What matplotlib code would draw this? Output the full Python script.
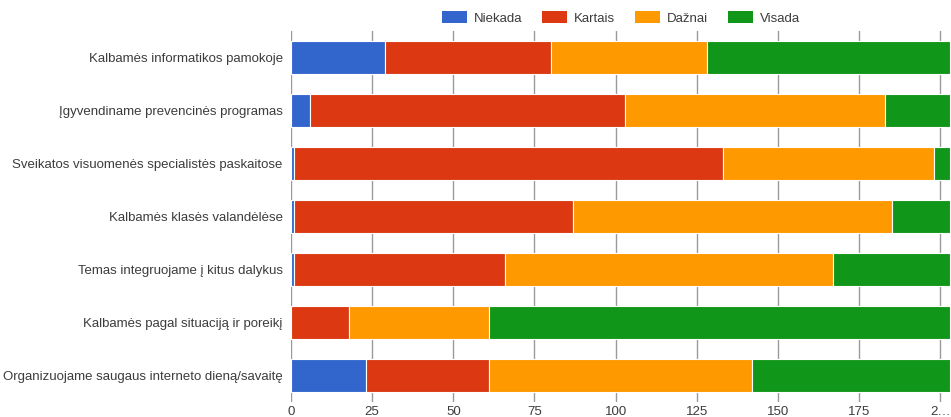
import matplotlib.pyplot as plt
from matplotlib.patches import Patch
import numpy as np

plt.rcParams['font.family'] = ['Liberation Sans', 'DejaVu Sans']

categories = [
    'Kalbamės informatikos pamokoje',
    'Įgyvendiname prevencinės programas',
    'Sveikatos visuomenės specialistės paskaitose',
    'Kalbamės klasės valandėlėse',
    'Temas integruojame į kitus dalykus',
    'Kalbamės pagal situaciją ir poreikį',
    'Organizuojame saugaus interneto dieną/savaitę',
]
niekada = [29, 6, 1, 1, 1, 0, 23]
kartais = [51, 97, 132, 86, 65, 18, 38]
daznai = [48, 80, 65, 98, 101, 43, 81]
visada = [75, 20, 5, 18, 36, 142, 61]

series = ['Niekada', 'Kartais', 'Dažnai', 'Visada']
colors = ['#3366cc', '#dc3912', '#ff9900', '#109618']
xticks = [0, 25, 50, 75, 100, 125, 150, 175, 200]
xlabels = ['0', '25', '50', '75', '100', '125', '150', '175', '2…']

fig = plt.figure(figsize=(9.51, 4.17), dpi=100)
ax = fig.add_axes([291 / 951, 1 - 402 / 417, 659 / 951, 371 / 417])

y = np.arange(len(categories))
left = np.zeros(len(categories))
for vals, c in zip([niekada, kartais, daznai, visada], colors):
    ax.barh(y, vals, left=left, height=0.61, color=c, edgecolor='white',
            linewidth=0.8, zorder=2)
    left += np.array(vals)

ax.set_ylim(len(categories) - 0.5, -0.5)
ax.set_xlim(0, 203)
ax.set_yticks(y)
ax.set_yticklabels(categories, fontsize=9.5, color='#3c3c3c')
ax.set_xticks(xticks)
ax.set_xticklabels(xlabels, fontsize=9.5, color='#3c3c3c')
ax.tick_params(axis='both', length=0)
ax.tick_params(axis='y', pad=6)
ax.tick_params(axis='x', pad=3)
ax.grid(axis='x', color='#9a9a9a', linewidth=1, zorder=0)
for s in ax.spines.values():
    s.set_visible(False)

handles = [Patch(facecolor=c, label=s) for s, c in zip(series, colors)]
fig.legend(handles=handles, loc='center', bbox_to_anchor=(621 / 951, 1 - 18 / 417),
           ncol=4, frameon=False, fontsize=9.5, handlelength=1.9,
           handleheight=1.06, handletextpad=0.53, columnspacing=1.5,
           labelcolor='#3c3c3c')

fig.savefig('out.png', dpi=100)
